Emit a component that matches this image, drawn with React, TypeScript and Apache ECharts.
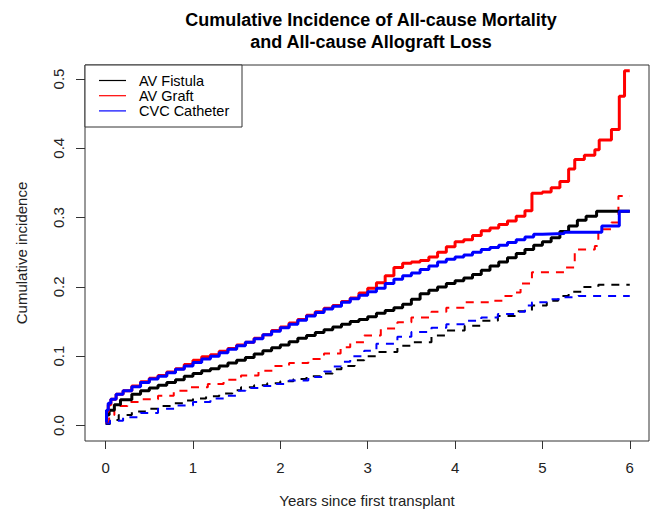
import React, { useEffect, useRef } from "react";
import * as echarts from "echarts";

const titleText = "Cumulative Incidence of All-cause Mortality\nand All-cause Allograft Loss";
const xAxisTitle = "Years since first transplant";
const yAxisTitle = "Cumulative incidence";
const xTicks = [0, 1, 2, 3, 4, 5, 6];
const yTicks = [0, 0.1, 0.2, 0.3, 0.4, 0.5];
const legendNames = ["AV Fistula", "AV Graft", "CVC Catheter"];
const groupColors = ["#000000", "#ff0000", "#0000ff"];

// Solid curves
const fistulaSolid: number[][] = [
  [0, 0.005], [0.01, 0.015], [0.04, 0.022], [0.1, 0.03], [0.17, 0.037], [0.3, 0.045], [0.4, 0.05],
  [0.5, 0.054], [0.6, 0.058], [0.7, 0.062], [0.8, 0.066], [0.9, 0.071], [1.0, 0.075], [1.1, 0.079],
  [1.2, 0.082], [1.3, 0.086], [1.4, 0.09], [1.5, 0.094], [1.6, 0.098], [1.7, 0.103], [1.8, 0.108],
  [1.9, 0.112], [2.0, 0.116], [2.1, 0.121], [2.2, 0.126], [2.3, 0.13], [2.4, 0.134], [2.5, 0.138],
  [2.6, 0.142], [2.7, 0.146], [2.8, 0.15], [2.9, 0.153], [3.0, 0.157], [3.1, 0.162], [3.2, 0.166],
  [3.3, 0.17], [3.4, 0.175], [3.5, 0.182], [3.6, 0.19], [3.7, 0.195], [3.8, 0.2], [3.9, 0.205],
  [4.0, 0.209], [4.1, 0.213], [4.2, 0.218], [4.3, 0.224], [4.4, 0.23], [4.5, 0.236], [4.6, 0.242],
  [4.7, 0.248], [4.8, 0.254], [4.9, 0.26], [5.0, 0.265], [5.1, 0.271], [5.2, 0.28], [5.3, 0.288],
  [5.4, 0.296], [5.5, 0.302], [5.62, 0.309], [6.0, 0.309],
];
const graftSolid: number[][] = [
  [0, 0.005], [0.01, 0.02], [0.03, 0.03], [0.06, 0.038], [0.12, 0.045], [0.2, 0.05], [0.3, 0.057],
  [0.4, 0.063], [0.5, 0.068], [0.6, 0.072], [0.7, 0.077], [0.8, 0.082], [0.9, 0.088], [1.0, 0.094],
  [1.1, 0.099], [1.2, 0.102], [1.3, 0.107], [1.4, 0.111], [1.5, 0.116], [1.6, 0.12], [1.7, 0.126],
  [1.8, 0.131], [1.9, 0.137], [2.0, 0.142], [2.1, 0.148], [2.2, 0.153], [2.3, 0.159], [2.4, 0.164],
  [2.5, 0.169], [2.6, 0.173], [2.7, 0.179], [2.8, 0.184], [2.9, 0.191], [3.0, 0.198], [3.1, 0.206],
  [3.2, 0.216], [3.3, 0.228], [3.4, 0.234], [3.5, 0.236], [3.6, 0.238], [3.7, 0.243], [3.8, 0.25],
  [3.9, 0.258], [4.0, 0.265], [4.1, 0.268], [4.2, 0.274], [4.3, 0.281], [4.4, 0.285], [4.5, 0.29],
  [4.6, 0.295], [4.7, 0.302], [4.8, 0.31], [4.88, 0.335], [5.0, 0.337], [5.1, 0.343], [5.2, 0.352],
  [5.3, 0.37], [5.37, 0.384], [5.48, 0.39], [5.6, 0.398], [5.65, 0.412], [5.79, 0.427],
  [5.88, 0.475], [5.94, 0.512], [6.0, 0.512],
];
const catheterSolid: number[][] = [
  [0, 0.005], [0.01, 0.022], [0.03, 0.032], [0.06, 0.038], [0.12, 0.045], [0.2, 0.05], [0.3, 0.056],
  [0.4, 0.062], [0.5, 0.067], [0.6, 0.071], [0.7, 0.076], [0.8, 0.081], [0.9, 0.086], [1.0, 0.091],
  [1.1, 0.096], [1.2, 0.1], [1.3, 0.105], [1.4, 0.11], [1.5, 0.115], [1.6, 0.12], [1.7, 0.125],
  [1.8, 0.131], [1.9, 0.136], [2.0, 0.141], [2.1, 0.146], [2.2, 0.152], [2.3, 0.158], [2.4, 0.163],
  [2.5, 0.168], [2.6, 0.172], [2.7, 0.178], [2.8, 0.183], [2.9, 0.188], [3.0, 0.193], [3.1, 0.198],
  [3.2, 0.205], [3.3, 0.211], [3.4, 0.216], [3.5, 0.22], [3.6, 0.225], [3.7, 0.23], [3.8, 0.236],
  [3.9, 0.24], [4.0, 0.243], [4.1, 0.246], [4.2, 0.25], [4.3, 0.254], [4.4, 0.257], [4.5, 0.26],
  [4.6, 0.264], [4.7, 0.268], [4.8, 0.272], [4.9, 0.276], [5.0, 0.277], [5.25, 0.279], [5.68, 0.288],
  [5.88, 0.309], [6.0, 0.309],
];

// Dashed curves
const fistulaDashed: number[][] = [
  [0, 0.002], [0.05, 0.008], [0.15, 0.015], [0.3, 0.02], [0.45, 0.024], [0.6, 0.028], [0.75, 0.032],
  [0.9, 0.036], [1.0, 0.039], [1.15, 0.042], [1.3, 0.046], [1.45, 0.051], [1.55, 0.055], [1.7, 0.058],
  [1.85, 0.061], [2.0, 0.064], [2.15, 0.067], [2.3, 0.071], [2.45, 0.075], [2.6, 0.081], [2.7, 0.086],
  [2.85, 0.094], [2.96, 0.1], [3.1, 0.106], [3.34, 0.115], [3.5, 0.12], [3.73, 0.13], [3.9, 0.137],
  [4.11, 0.144], [4.3, 0.151], [4.49, 0.158], [4.7, 0.165], [4.88, 0.173], [5.05, 0.18], [5.18, 0.187],
  [5.3, 0.193], [5.45, 0.2], [5.64, 0.203], [6.0, 0.203],
];
const graftDashed: number[][] = [
  [0, 0.005], [0.04, 0.015], [0.1, 0.028], [0.25, 0.034], [0.4, 0.038], [0.6, 0.043], [0.78, 0.05],
  [0.95, 0.055], [1.17, 0.06], [1.35, 0.066], [1.55, 0.072], [1.75, 0.079], [1.93, 0.086], [2.1, 0.09],
  [2.32, 0.096], [2.5, 0.104], [2.69, 0.113], [2.8, 0.12], [2.96, 0.13], [3.15, 0.14], [3.34, 0.149],
  [3.5, 0.156], [3.73, 0.164], [3.9, 0.17], [4.11, 0.178], [4.42, 0.18], [4.55, 0.187], [4.65, 0.192],
  [4.75, 0.205], [4.88, 0.221], [5.25, 0.228], [5.37, 0.254], [5.6, 0.259], [5.64, 0.283],
  [5.79, 0.293], [5.87, 0.331], [6.0, 0.331],
];
const catheterDashed: number[][] = [
  [0, 0.003], [0.05, 0.007], [0.2, 0.012], [0.4, 0.018], [0.6, 0.024], [0.8, 0.029], [1.0, 0.034],
  [1.2, 0.039], [1.36, 0.043], [1.5, 0.05], [1.6, 0.054], [1.8, 0.057], [1.93, 0.06], [2.1, 0.065],
  [2.32, 0.07], [2.5, 0.078], [2.6, 0.085], [2.69, 0.092], [2.8, 0.1], [2.96, 0.108], [3.1, 0.118],
  [3.34, 0.128], [3.5, 0.135], [3.73, 0.141], [3.9, 0.146], [4.11, 0.151], [4.3, 0.156], [4.49, 0.161],
  [4.68, 0.164], [4.8, 0.173], [4.88, 0.178], [5.1, 0.182], [5.25, 0.185], [5.41, 0.187], [6.0, 0.187],
];

const FONT = "Liberation Sans, Arial, sans-serif";

export default function App() {
  const ref = useRef<HTMLDivElement>(null);
  useEffect(() => {
    if (!ref.current) return;
    const chart = echarts.init(ref.current, null, { renderer: "svg" });
    const solid = [fistulaSolid, graftSolid, catheterSolid];
    const dashed = [fistulaDashed, graftDashed, catheterDashed];
    const series: any[] = [];
    dashed.forEach((d, i) => {
      series.push({
        name: legendNames[i] + " (dashed)",
        type: "line",
        data: d,
        step: "end",
        showSymbol: false,
        silent: true,
        lineStyle: { color: groupColors[i], width: 2, type: [8, 7] },
      });
    });
    solid.forEach((d, i) => {
      series.push({
        name: legendNames[i],
        type: "line",
        data: d,
        step: "end",
        showSymbol: false,
        silent: true,
        lineStyle: { color: groupColors[i], width: 3, type: "solid" },
      });
    });

    const legendChildren: any[] = [
      {
        type: "rect",
        shape: { x: 85, y: 65, width: 157, height: 62 },
        style: { fill: "#fff", stroke: "#333", lineWidth: 1 },
        z: 10,
      },
    ];
    legendNames.forEach((n, i) => {
      const y = 80.5 + i * 15.2;
      legendChildren.push({
        type: "line",
        shape: { x1: 99, y1: y, x2: 126, y2: y },
        style: { stroke: groupColors[i], lineWidth: 1.2 },
        z: 11,
      });
      legendChildren.push({
        type: "text",
        x: 139,
        y,
        z: 11,
        style: { text: n, font: `14.5px ${FONT}`, fill: "#000", verticalAlign: "middle" },
      });
    });

    chart.setOption({
      animation: false,
      backgroundColor: "#fff",
      title: {
        text: titleText,
        left: 366,
        top: 4,
        textAlign: "center",
        textStyle: { fontFamily: FONT, fontSize: 18, fontWeight: "bold", color: "#000", lineHeight: 22 },
      },
      grid: { left: 85, top: 65, right: 1, bottom: 73, show: true, borderColor: "#333", borderWidth: 1, containLabel: false },
      xAxis: {
        type: "value",
        min: -0.236,
        max: 6.22,
        splitLine: { show: false },
        axisLine: { show: false, onZero: false },
        axisTick: { show: true, inside: false, length: 8, customValues: xTicks, lineStyle: { color: "#333" } },
        axisLabel: { customValues: xTicks, fontFamily: FONT, fontSize: 15, color: "#222", margin: 19, formatter: (v: number) => String(v) },
        name: xAxisTitle,
        nameLocation: "middle",
        nameGap: 52,
        nameTextStyle: { fontFamily: FONT, fontSize: 15, color: "#222" },
      },
      yAxis: {
        type: "value",
        min: -0.0224,
        max: 0.5202,
        splitLine: { show: false },
        axisLine: { show: false, onZero: false },
        axisTick: { show: true, inside: false, length: 9, customValues: yTicks, lineStyle: { color: "#333" } },
        axisLabel: { customValues: yTicks, rotate: 90, fontFamily: FONT, fontSize: 15, color: "#222", margin: 19, formatter: (v: number) => v.toFixed(1) },
        name: yAxisTitle,
        nameLocation: "middle",
        nameGap: 56,
        nameTextStyle: { fontFamily: FONT, fontSize: 15, color: "#222" },
      },
      series,
      graphic: [{ type: "group", children: legendChildren }],
    });
    return () => chart.dispose();
  }, []);
  return <div ref={ref} style={{ position: "fixed", left: 0, top: 0, width: 650, height: 514, background: "#fff" }} />;
}
